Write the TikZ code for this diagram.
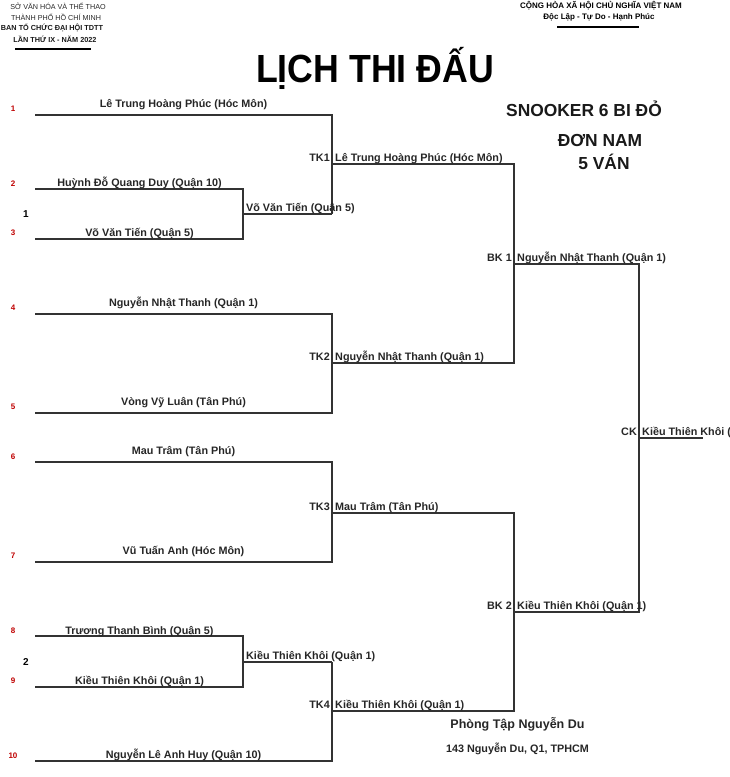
\documentclass[tikz,border=0pt]{standalone}
\usepackage{fontspec}
\setmainfont{Liberation Sans}
\begin{document}
\begin{tikzpicture}[x=1pt,y=-1pt,
  br/.style={draw=black!80,line width=1.4pt},
  nm/.style={font=\fontsize{10.8}{12}\selectfont\bfseries,inner sep=0pt,anchor=base,text=black!85},
  wn/.style={nm,anchor=base west},
  rd/.style={nm,anchor=base east},
  seed/.style={font=\fontsize{8}{9}\selectfont\bfseries,text=red!75!black,inner sep=0pt},
  grp/.style={font=\fontsize{10}{12}\selectfont\bfseries,inner sep=0pt},
  hd/.style={font=\fontsize{7.2}{8}\selectfont,inner sep=0pt,text=black!85},
  hdb/.style={font=\fontsize{7.3}{8}\selectfont\bfseries,inner sep=0pt,text=black!90},
  big/.style={font=\fontsize{17.4}{20}\selectfont\bfseries,inner sep=0pt,text=black!90}]
\useasboundingbox (0,0) rectangle (730,777);
\clip (0,0) rectangle (730,777);
% header
\node[hd] (h1) at (58,6) {SỞ VĂN HÓA VÀ THỂ THAO};
\node[hd] (h2) at (56,17) {THÀNH PHỐ HỒ CHÍ MINH};
\node[hdb] (h3) at (52,28) {BAN TỔ CHỨC ĐẠI HỘI TDTT};
\node[hdb] (h4) at (55,39) {LẦN THỨ IX - NĂM 2022};
\coordinate (u1a) at (15,49); \coordinate (u1b) at (91,49);
\draw[line width=1.3pt] (u1a) -- (u1b);
\node[font=\fontsize{8}{9}\selectfont\bfseries,inner sep=0pt] (h5) at (601,6) {CỘNG HÒA XÃ HỘI CHỦ NGHĨA VIỆT NAM};
\node[font=\fontsize{8}{9}\selectfont\bfseries,inner sep=0pt] (h6) at (599,17) {Độc Lập - Tự Do - Hạnh Phúc};
\coordinate (u2a) at (557,27); \coordinate (u2b) at (639,27);
\draw[line width=1.3pt] (u2a) -- (u2b);
\node[font=\fontsize{35.7}{40}\selectfont\bfseries,inner sep=0pt,anchor=base,yscale=1.1] (title) at (375,82) {LỊCH THI ĐẤU};
\node[big] (s1) at (584,109) {SNOOKER 6 BI ĐỎ};
\node[big] (s2) at (600,141) {ĐƠN NAM};
\node[big] (s3) at (604,162) {5 VÁN};
% coordinates
\coordinate (p1a) at (35,115); \coordinate (p1b) at (332,115);
\coordinate (p2a) at (35,189); \coordinate (p2b) at (243,189);
\coordinate (p3a) at (35,239); \coordinate (p3b) at (243,239);
\coordinate (g1a) at (243,214); \coordinate (g1b) at (332,214);
\coordinate (t1a) at (332,164); \coordinate (t1b) at (514,164);
\coordinate (p4a) at (35,314); \coordinate (p4b) at (332,314);
\coordinate (p5a) at (35,413); \coordinate (p5b) at (332,413);
\coordinate (t2a) at (332,363); \coordinate (t2b) at (514,363);
\coordinate (b1a) at (514,264); \coordinate (b1b) at (639,264);
\coordinate (p6a) at (35,462); \coordinate (p6b) at (332,462);
\coordinate (p7a) at (35,562); \coordinate (p7b) at (332,562);
\coordinate (t3a) at (332,513); \coordinate (t3b) at (514,513);
\coordinate (p8a) at (35,636); \coordinate (p8b) at (243,636);
\coordinate (p9a) at (35,687); \coordinate (p9b) at (243,687);
\coordinate (g2a) at (243,662); \coordinate (g2b) at (332,662);
\coordinate (p10a) at (35,761); \coordinate (p10b) at (332,761);
\coordinate (t4a) at (332,711); \coordinate (t4b) at (514,711);
\coordinate (b2a) at (514,612); \coordinate (b2b) at (639,612);
\coordinate (cka) at (639,438); \coordinate (ckb) at (703,438);
% brackets
\draw[br] (p2a) -- (p2b) -- (p3b) -- (p3a);
\draw[br] (g1a) -- (g1b);
\draw[br] (p1a) -- (p1b) -- (g1b);
\draw[br] (t1a) -- (t1b) -- (b1a);
\draw[br] (p4a) -- (p4b) -- (p5b) -- (p5a);
\draw[br] (t2a) -- (t2b) -- (b1a);
\draw[br] (b1a) -- (b1b) -- (b2b) -- (b2a);
\draw[br] (p6a) -- (p6b) -- (p7b) -- (p7a);
\draw[br] (t3a) -- (t3b) -- (b2a);
\draw[br] (p8a) -- (p8b) -- (p9b) -- (p9a);
\draw[br] (g2a) -- (g2b);
\draw[br] (p10a) -- (p10b) -- (g2b);
\draw[br] (t4a) -- (t4b) -- (b2a);
\draw[br] (cka) -- (ckb);
% players
\node[nm] (n1) at (183.5,107) {Lê Trung Hoàng Phúc (Hóc Môn)};
\node[nm] (n2) at (139.5,186.5) {Huỳnh Đỗ Quang Duy (Quận 10)};
\node[nm] (n3) at (139.5,236.5) {Võ Văn Tiến (Quận 5)};
\node[nm] (n4) at (183.5,306) {Nguyễn Nhật Thanh (Quận 1)};
\node[nm] (n5) at (183.5,405.5) {Vòng Vỹ Luân (Tân Phú)};
\node[nm] (n6) at (183.5,454.5) {Mau Trâm (Tân Phú)};
\node[nm] (n7) at (183.5,554) {Vũ Tuấn Anh (Hóc Môn)};
\node[nm] (n8) at (139.5,634) {Trương Thanh Bình (Quận 5)};
\node[nm] (n9) at (139.5,684.5) {Kiều Thiên Khôi (Quận 1)};
\node[nm] (n10) at (183.5,758.5) {Nguyễn Lê Anh Huy (Quận 10)};
% winners
\node[wn] (w1) at (246,211.5) {Võ Văn Tiến (Quận 5)};
\node[wn] (w2) at (246,659.5) {Kiều Thiên Khôi (Quận 1)};
\node[wn] (wt1) at (335,161.5) {Lê Trung Hoàng Phúc (Hóc Môn)};
\node[wn] (wt2) at (335,360.5) {Nguyễn Nhật Thanh (Quận 1)};
\node[wn] (wt3) at (335,510.5) {Mau Trâm (Tân Phú)};
\node[wn] (wt4) at (335,708.5) {Kiều Thiên Khôi (Quận 1)};
\node[wn] (wb1) at (517,261.5) {Nguyễn Nhật Thanh (Quận 1)};
\node[wn] (wb2) at (517,609.5) {Kiều Thiên Khôi (Quận 1)};
\node[wn] (wck) at (642,435.5) {Kiều Thiên Khôi (Quận 1)};
% round labels
\node[rd] (r1) at (330,161.5) {TK1};
\node[rd] (r2) at (330,360.5) {TK2};
\node[rd] (r3) at (330,510.5) {TK3};
\node[rd] (r4) at (330,708.5) {TK4};
\node[rd] (r5) at (512,261.5) {BK 1};
\node[rd] (r6) at (512,609.5) {BK 2};
\node[rd] (r7) at (637,435.5) {CK};
% seeds
\node[seed] (s01) at (13,109) {1};
\node[seed] (s02) at (13,184) {2};
\node[seed] (s03) at (13,233) {3};
\node[seed] (s04) at (13,308) {4};
\node[seed] (s05) at (13,407) {5};
\node[seed] (s06) at (13,457) {6};
\node[seed] (s07) at (13,556) {7};
\node[seed] (s08) at (13,631) {8};
\node[seed] (s09) at (13,681) {9};
\node[seed] (s10) at (13,756) {10};
\node[grp] (gA) at (26,214) {1};
\node[grp] (gB) at (26,662) {2};
% footer
\node[font=\fontsize{12.5}{14}\selectfont\bfseries,inner sep=0pt,text=black!85] (f1) at (517.5,724) {Phòng Tập Nguyễn Du};
\node[font=\fontsize{10.8}{12}\selectfont\bfseries,inner sep=0pt,text=black!85] (f2) at (517.5,749) {143 Nguyễn Du, Q1, TPHCM};
\end{tikzpicture}
\end{document}
